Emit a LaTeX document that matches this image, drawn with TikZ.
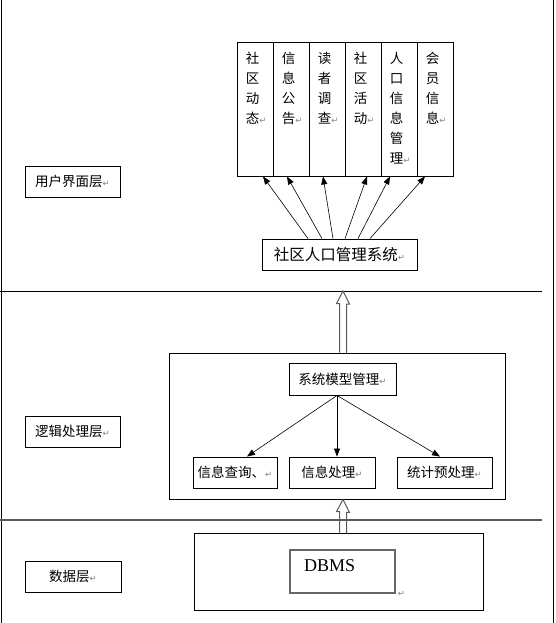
\documentclass[tikz,border=0pt]{standalone}
\usepackage{fontspec}
\setmainfont{Liberation Serif}
\newfontfamily\cjk{Noto Sans CJK SC}
\newfontfamily\symfont{DejaVu Sans}
\usetikzlibrary{arrows.meta}
\newcommand{\retmark}{{\symfont\fontsize{8.5}{8.5}\selectfont\textcolor{gray}{↵}}}

\tikzset{
	box/.style={draw, line width=0.9pt, inner sep=0pt, minimum height=31pt, font=\cjk\fontsize{13.5}{16}\selectfont},
	layerbox/.style={box, minimum width=95pt},
	col/.style={draw, line width=0.9pt, inner sep=0pt, minimum width=36pt, minimum height=134pt},
	coltext/.style={anchor=north west, inner sep=0pt, align=left, font=\cjk\fontsize{13.5}{20}\selectfont},
	link/.style={-{Triangle[width=6pt,length=8pt]}, line width=0.6pt},
	hollow/.style={draw=gray!70!black, line width=1pt}
}

\begin{document}
\begin{tikzpicture}[x=1pt,y=-1pt]
	\useasboundingbox (0,0) rectangle (556,623);

	% frame and layer lines
	\draw[line width=1pt] (1,0) -- (1,623);
	\draw[line width=1pt] (553,0) -- (553,623);
	\draw[line width=0.9pt] (0,291) -- (542,291);
	\draw[line width=1.2pt, gray!70!black] (0,520) -- (542,520);

	% layer names
	\node[layerbox] (ui) at (72.5,181.5) {用户界面层\retmark};
	\node[layerbox] (logic) at (72.5,431.5) {逻辑处理层\retmark};
	\node[layerbox, minimum width=96pt] (data) at (73,576.5) {数据层\retmark};

	% user interface layer
	\node[col] (c1) at (255,109) {};
	\node[col] (c2) at (291,109) {};
	\node[col] (c3) at (327,109) {};
	\node[col] (c4) at (363,109) {};
	\node[col] (c5) at (399,109) {};
	\node[col] (c6) at (435,109) {};
	\node[coltext] at ([xshift=9pt,yshift=-10pt]c1.north west) {社\\区\\动\\态\retmark};
	\node[coltext] at ([xshift=9pt,yshift=-10pt]c2.north west) {信\\息\\公\\告\retmark};
	\node[coltext] at ([xshift=9pt,yshift=-10pt]c3.north west) {读\\者\\调\\查\retmark};
	\node[coltext] at ([xshift=9pt,yshift=-10pt]c4.north west) {社\\区\\活\\动\retmark};
	\node[coltext] at ([xshift=9pt,yshift=-10pt]c5.north west) {人\\口\\信\\息\\管\\理\retmark};
	\node[coltext] at ([xshift=9pt,yshift=-10pt]c6.north west) {会\\员\\信\\息\retmark};

	\node[box, minimum width=155pt, font=\cjk\fontsize{15.5}{18}\selectfont] (sys) at (339.5,254.5) {社区人口管理系统\retmark};
	\draw[link] ([xshift=-31.5pt]sys.north) -- ([xshift=8pt]c1.south);
	\draw[link] ([xshift=-17.5pt]sys.north) -- ([xshift=-4pt]c2.south);
	\draw[link] ([xshift=-6.5pt]sys.north) -- ([xshift=-4pt]c3.south);
	\draw[link] ([xshift=5.5pt]sys.north) -- ([xshift=4pt]c4.south);
	\draw[link] ([xshift=18.5pt]sys.north) -- ([xshift=-9pt]c5.south);
	\draw[link] ([xshift=30.5pt]sys.north) -- ([xshift=-10pt]c6.south);

	% logic layer
	\node[draw, line width=0.9pt, minimum width=336pt, minimum height=146pt] (logicbox) at (337,426) {};
	\node[box, minimum width=107pt, minimum height=32pt] (mgr) at (342.5,379) {系统模型管理\retmark};
	\node[box, minimum width=84pt] (qry) at (235,472.5) {信息查询、\retmark};
	\node[box, minimum width=86pt] (proc) at (332,472.5) {信息处理\retmark};
	\node[box, minimum width=95pt] (stat) at (444.5,472.5) {统计预处理\retmark};
	\draw[link] ([xshift=-5.5pt]mgr.south) -- ([xshift=12pt]qry.north);
	\draw[link] ([xshift=-5.5pt]mgr.south) -- ([xshift=5pt]proc.north);
	\draw[link] ([xshift=-5.5pt]mgr.south) -- ([xshift=-4.5pt]stat.north);

	% data layer
	\node[draw, line width=0.9pt, minimum width=289pt, minimum height=77pt] (datab) at (338.5,571.5) {};
	\node[draw=gray!80!black, line width=1.2pt, minimum width=105pt, minimum height=43pt] (dbms) at (342.5,571.5) {};
	\node[anchor=base west, inner sep=0pt, font=\fontsize{18}{20}\selectfont] at (304,571) {DBMS};
	\node[anchor=base west, inner sep=0pt] at ([xshift=2pt,yshift=-3pt]dbms.south east) {\retmark};

	% hollow arrows between layers
	\coordinate (tipA) at (343,291);
	\draw[hollow] (tipA |- logicbox.north) ++(-3.5,0) -- ++(0,-49) -- ++(-3,0) -- (tipA) -- ++(6.5,13) -- ++(-3,0) -- ++(0,49);
	\coordinate (tipB) at (logicbox.south -| tipA);
	\draw[hollow] (tipB |- datab.north) ++(-3.5,0) -- ++(0,-21) -- ++(-3,0) -- (tipB) -- ++(6.5,13) -- ++(-3,0) -- ++(0,21);
\end{tikzpicture}
\end{document}
